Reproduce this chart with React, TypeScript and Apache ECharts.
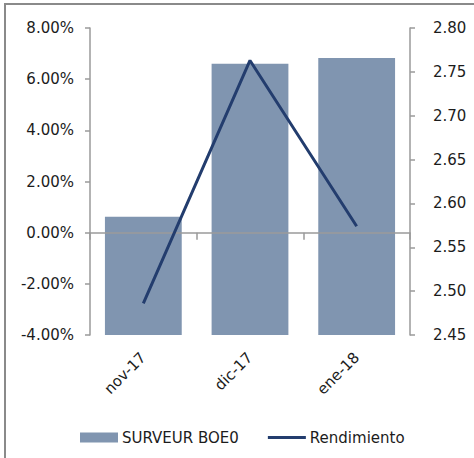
import React, { useEffect, useRef } from "react";
import * as echarts from "echarts";

const categories = ["nov-17", "dic-17", "ene-18"];
const barName = "SURVEUR BOE0";
const lineName = "Rendimiento";
const barValues = [0.62, 6.6, 6.83];
const lineValues = [2.486, 2.763, 2.574];
const leftMin = -4;
const leftMax = 8;
const leftInterval = 2;
const rightMin = 2.45;
const rightMax = 2.8;
const rightInterval = 0.05;

const FONT = "DejaVu Sans";
const TEXT = "#1c1c1c";
const AXIS = "#9a9a9a";
const LINE = "#233d6e";

export default function App() {
  const ref = useRef<HTMLDivElement>(null);
  useEffect(() => {
    if (!ref.current) return;
    const chart = echarts.init(ref.current, undefined, { renderer: "svg" });
    chart.setOption({
      animation: false,
      backgroundColor: "#ffffff",
      textStyle: { fontFamily: FONT },
      graphic: [
        {
          type: "rect",
          shape: { x: 5, y: 4, width: 490, height: 480 },
          style: { fill: "none", stroke: "#8a8a8a", lineWidth: 2 },
          silent: true,
          z: 100,
        },
      ],
      legend: {
        left: 80,
        top: 430,
        padding: 0,
        itemWidth: 38,
        itemHeight: 10,
        itemGap: 29,
        textStyle: { fontFamily: FONT, fontSize: 15, color: TEXT, padding: [0, 0, 0, -1] },
        data: [
          { name: barName, icon: "rect" },
          {
            name: lineName,
            icon: "path://M0,0H38V3H0Z",
            itemStyle: { color: LINE, borderWidth: 0 },
          },
        ],
      },
      grid: { left: 90, right: 64, top: 28, bottom: 123 },
      xAxis: [
        {
          type: "category",
          data: categories,
          position: "bottom",
          axisLine: { show: false, onZero: false },
          axisTick: { show: false },
          axisLabel: {
            rotate: 45,
            margin: 20,
            fontSize: 15,
            fontFamily: FONT,
            color: TEXT,
            interval: 0,
          },
        },
        {
          type: "category",
          data: categories,
          position: "bottom",
          z: 5,
          axisLine: { show: true, onZero: true, lineStyle: { color: AXIS, width: 1.5 } },
          axisTick: { show: true, length: 7, lineStyle: { color: AXIS, width: 1.5 } },
          axisLabel: { show: false },
        },
      ],
      yAxis: [
        {
          type: "value",
          min: leftMin,
          max: leftMax,
          interval: leftInterval,
          startValue: leftMin,
          splitLine: { show: false },
          axisLine: { show: true, lineStyle: { color: AXIS, width: 1.5 } },
          axisTick: { show: true, length: 5, lineStyle: { color: AXIS, width: 1.5 } },
          axisLabel: {
            margin: 16,
            fontSize: 15,
            fontFamily: FONT,
            color: TEXT,
            formatter: (v: number) => v.toFixed(2) + "%",
          },
        },
        {
          type: "value",
          min: rightMin,
          max: rightMax,
          interval: rightInterval,
          splitLine: { show: false },
          axisLine: { show: true, lineStyle: { color: AXIS, width: 1.5 } },
          axisTick: { show: true, length: 5, lineStyle: { color: AXIS, width: 1.5 } },
          axisLabel: {
            margin: 23,
            fontSize: 15,
            fontFamily: FONT,
            color: TEXT,
            formatter: (v: number) => v.toFixed(2),
          },
        },
      ],
      series: [
        {
          name: barName,
          type: "bar",
          data: barValues,
          yAxisIndex: 0,
          barCategoryGap: "28%",
          itemStyle: { color: "#8095b0" },
          z: 2,
        },
        {
          name: lineName,
          type: "line",
          data: lineValues,
          yAxisIndex: 1,
          symbol: "none",
          lineStyle: { color: LINE, width: 3 },
          itemStyle: { color: LINE },
          z: 10,
        },
      ],
    });
    return () => chart.dispose();
  }, []);
  return (
    <div
      ref={ref}
      style={{ position: "fixed", left: 0, top: 0, width: 474, height: 458 }}
    />
  );
}
